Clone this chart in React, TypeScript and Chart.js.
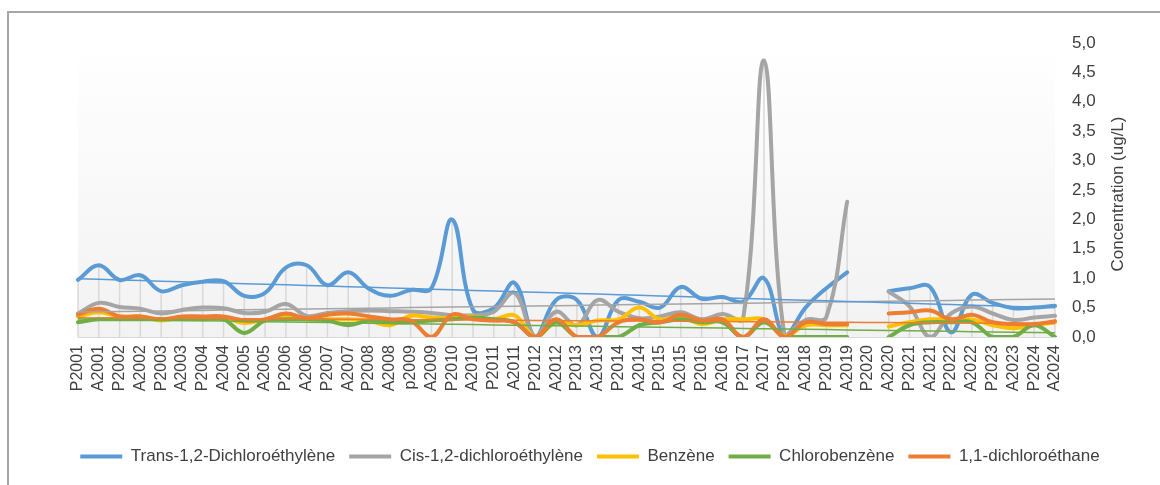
import React, { useEffect, useRef } from 'react';
import { Chart, registerables } from 'chart.js';

Chart.register(...registerables);

const categories = [
  'P2001', 'A2001', 'P2002', 'A2002', 'P2003', 'A2003', 'P2004', 'A2004',
  'P2005', 'A2005', 'P2006', 'A2006', 'P2007', 'A2007', 'P2008', 'A2008',
  'p2009', 'A2009', 'P2010', 'A2010', 'P2011', 'A2011', 'P2012', 'A2012',
  'P2013', 'A2013', 'P2014', 'A2014', 'P2015', 'A2015', 'P2016', 'A2016',
  'P2017', 'A2017', 'P2018', 'A2018', 'P2019', 'A2019', 'P2020', 'A2020',
  'P2021', 'A2021', 'P2022', 'A2022', 'P2023', 'A2023', 'P2024', 'A2024',
];

const trans12 = [
  0.97, 1.22, 0.97, 1.05, 0.78, 0.88, 0.94, 0.95, 0.70, 0.75, 1.18, 1.22,
  0.88, 1.10, 0.82, 0.70, 0.80, 0.83, 2.0, 0.46, 0.49, 0.92, 0.0, 0.63,
  0.63, 0.0, 0.63, 0.60, 0.50, 0.85, 0.65, 0.68, 0.60, 1.0, 0.02, 0.50,
  0.83, 1.10, null, 0.78, 0.83, 0.85, 0.08, 0.72, 0.58, 0.49, 0.50, 0.53,
];

const cis12 = [
  0.40, 0.58, 0.51, 0.48, 0.40, 0.46, 0.50, 0.49, 0.41, 0.43, 0.56, 0.36,
  0.41, 0.44, 0.45, 0.44, 0.43, 0.41, 0.37, 0.37, 0.43, 0.75, 0.0, 0.43,
  0.20, 0.63, 0.43, 0.32, 0.35, 0.42, 0.30, 0.39, 0.32, 4.7, 0.0, 0.29,
  0.34, 2.3, null, 0.77, 0.52, 0.0, 0.40, 0.52, 0.40, 0.29, 0.33, 0.36,
];

const benzene = [
  0.35, 0.42, 0.35, 0.35, 0.28, 0.33, 0.33, 0.33, 0.24, 0.30, 0.35, 0.30,
  0.30, 0.30, 0.28, 0.20, 0.36, 0.33, 0.32, 0.35, 0.30, 0.37, 0.0, 0.25,
  0.20, 0.28, 0.30, 0.50, 0.30, 0.35, 0.22, 0.30, 0.30, 0.30, 0.02, 0.20,
  0.20, 0.20, null, 0.18, 0.25, 0.30, 0.30, 0.30, 0.20, 0.15, 0.20, 0.25,
];

const chlorobenzene = [
  0.25, 0.30, 0.30, 0.30, 0.30, 0.30, 0.30, 0.30, 0.07, 0.28, 0.30, 0.30,
  0.28, 0.20, 0.28, 0.25, 0.25, 0.28, 0.30, 0.33, 0.30, 0.25, 0.0, 0.25,
  0.0, 0.0, 0.0, 0.20, 0.25, 0.30, 0.25, 0.25, 0.0, 0.25, 0.0, 0.0,
  0.0, 0.0, null, 0.0, 0.20, 0.25, 0.25, 0.25, 0.0, 0.0, 0.20, 0.0,
];

const dichloroethane11 = [
  0.38, 0.48, 0.35, 0.35, 0.30, 0.35, 0.35, 0.35, 0.28, 0.30, 0.40, 0.32,
  0.38, 0.40, 0.35, 0.30, 0.28, 0.0, 0.38, 0.30, 0.28, 0.25, 0.0, 0.30,
  0.0, 0.0, 0.25, 0.30, 0.25, 0.38, 0.28, 0.30, 0.0, 0.30, 0.0, 0.25,
  0.22, 0.22, null, 0.40, 0.42, 0.45, 0.30, 0.38, 0.25, 0.22, 0.22, 0.27,
];

const seriesNames = [
  'Trans-1,2-Dichloroéthylène',
  'Cis-1,2-dichloroéthylène',
  'Benzène',
  'Chlorobenzène',
  '1,1-dichloroéthane',
];
const seriesColors = ['#5b9bd5', '#a5a5a5', '#ffc000', '#70ad47', '#ed7d31'];
const seriesData = [trans12, cis12, benzene, chlorobenzene, dichloroethane11];
const trendSeries = [0, 1, 3, 4];

const yTicksMin = 0;
const yTicksMax = 5;
const yTickStep = 0.5;
const yAxisTitle = 'Concentration (ug/L)';

const FONT = "'Liberation Sans', Arial, sans-serif";
const TEXT = '#404040';

function linearTrend(values: (number | null)[]): number[] {
  let n = 0, sx = 0, sy = 0, sxx = 0, sxy = 0;
  values.forEach((v, i) => {
    if (v === null) return;
    n++; sx += i; sy += v; sxx += i * i; sxy += i * v;
  });
  const slope = (n * sxy - sx * sy) / (n * sxx - sx * sx);
  const intercept = (sy - slope * sx) / n;
  return values.map((_, i) => intercept + slope * i);
}

const bgPlugin = {
  id: 'plotBg',
  beforeDraw(chart: any) {
    const { ctx, chartArea } = chart;
    if (!chartArea) return;
    const { left, top, right, bottom } = chartArea;
    const g = ctx.createLinearGradient(0, top, 0, bottom);
    g.addColorStop(0, '#ffffff');
    g.addColorStop(1, '#f2f2f2');
    ctx.save();
    ctx.fillStyle = g;
    ctx.fillRect(left, top, right - left, bottom - top);
    ctx.restore();
  },
};

// Drop lines: from the highest value of each category down to the axis
const dropLinePlugin = {
  id: 'dropLines',
  beforeDatasetsDraw(chart: any) {
    const { ctx } = chart;
    const xs = chart.scales.x;
    const ys = chart.scales.y;
    ctx.save();
    ctx.strokeStyle = '#d9d9d9';
    ctx.lineWidth = 1.5;
    categories.forEach((_, i) => {
      let max: number | null = null;
      seriesData.forEach((d) => {
        const v = d[i];
        if (v !== null && (max === null || v > max)) max = v;
      });
      if (max === null) return;
      const x = xs.getPixelForValue(i);
      ctx.beginPath();
      ctx.moveTo(x, ys.getPixelForValue(max));
      ctx.lineTo(x, ys.getPixelForValue(0));
      ctx.stroke();
    });
    ctx.restore();
  },
};

const titlePlugin = {
  id: 'yTitle',
  afterDraw(chart: any) {
    const { ctx, chartArea } = chart;
    ctx.save();
    ctx.font = `17px ${FONT}`;
    ctx.fillStyle = TEXT;
    ctx.translate(chartArea.right + 68, (chartArea.top + chartArea.bottom) / 2 + 4);
    ctx.rotate(-Math.PI / 2);
    ctx.textAlign = 'center';
    ctx.textBaseline = 'alphabetic';
    ctx.fillText(yAxisTitle, 0, 0);
    ctx.restore();
  },
};

export default function App() {
  const ref = useRef<HTMLCanvasElement>(null);

  useEffect(() => {
    if (!ref.current) return;
    const mainSets = seriesData.map((d, i) => ({
      label: seriesNames[i],
      data: d,
      borderColor: seriesColors[i],
      backgroundColor: seriesColors[i],
      borderWidth: 4,
      tension: 0.4,
      pointRadius: 0,
      pointHoverRadius: 0,
      spanGaps: false,
      fill: false,
      borderJoinStyle: 'round' as const,
      borderCapStyle: 'round' as const,
      order: 10 - i,
      yAxisID: 'y',
    }));
    const trendSets = trendSeries.map((si) => ({
      label: 'trend-' + seriesNames[si],
      data: linearTrend(seriesData[si]),
      borderColor: seriesColors[si],
      backgroundColor: seriesColors[si],
      borderWidth: 1.5,
      tension: 0,
      pointRadius: 0,
      pointHoverRadius: 0,
      fill: false,
      order: 0,
      yAxisID: 'y',
    }));

    const chart = new Chart(ref.current, {
      type: 'line',
      data: { labels: categories, datasets: [...mainSets, ...trendSets] as any },
      options: {
        animation: false,
        responsive: true,
        maintainAspectRatio: false,
        layout: { padding: { left: 0, right: 0, top: 30, bottom: 28 } },
        plugins: {
          legend: {
            position: 'bottom',
            labels: {
              usePointStyle: true,
              pointStyle: 'line',
              pointStyleWidth: 42,
              padding: 14,
              color: TEXT,
              font: { size: 17, family: FONT },
              filter: (item: any) => item.datasetIndex < seriesNames.length,
              sort: (a: any, b: any) => a.datasetIndex - b.datasetIndex,
            },
          },
          tooltip: { enabled: false },
        },
        scales: {
          x: {
            type: 'category',
            offset: false,
            grid: { display: false, drawTicks: false },
            border: { color: '#d9d9d9', width: 1 },
            ticks: {
              autoSkip: false,
              maxRotation: 90,
              minRotation: 90,
              padding: 8,
              color: TEXT,
              font: { size: 16, family: FONT },
            },
            afterFit: (s: any) => { s.height = 97; },
          },
          yDummy: {
            type: 'linear',
            position: 'left',
            display: true,
            grid: { display: false, drawTicks: false },
            border: { display: false },
            ticks: { display: false },
            afterFit: (s: any) => { s.width = 69; },
          },
          y: {
            type: 'linear',
            position: 'right',
            min: yTicksMin,
            max: yTicksMax,
            grid: { display: false, drawTicks: false },
            border: { display: false },
            ticks: {
              stepSize: yTickStep,
              padding: 17,
              color: TEXT,
              font: { size: 17, family: FONT },
              callback: (v: any) => Number(v).toFixed(1).replace('.', ','),
            },
            afterFit: (s: any) => { s.width = 116; },
          },
        },
      } as any,
      plugins: [bgPlugin, dropLinePlugin, titlePlugin],
    });
    return () => chart.destroy();
  }, []);

  return (
    <div style={{ position: 'fixed', inset: 0, overflow: 'hidden', background: '#ffffff' }}>
      <div
        style={{
          position: 'absolute',
          left: 7,
          top: 11,
          width: 1300,
          height: 600,
          borderLeft: '2px solid #a6a6a6',
          borderTop: '2px solid #a6a6a6',
        }}
      >
        <div style={{ position: 'absolute', left: 0, top: 0, width: 1162, height: 490 }}>
          <canvas ref={ref} />
        </div>
      </div>
    </div>
  );
}
